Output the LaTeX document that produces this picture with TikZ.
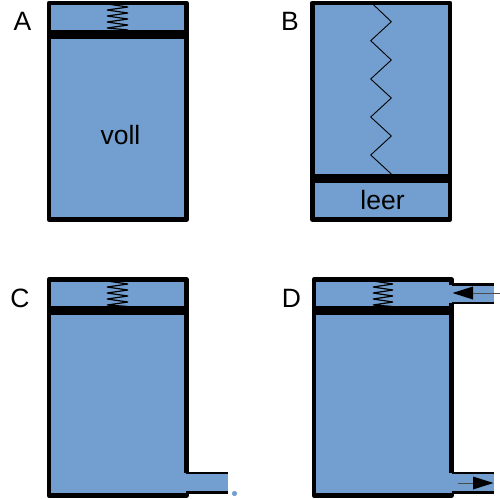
\documentclass[tikz,border=0pt]{standalone}
\usepackage{fontspec}
\setmainfont{Liberation Sans}
\definecolor{fillblue}{RGB}{114,159,207}
\tikzset{
  wall/.style={draw=black,line width=4.4pt,fill=fillblue,line join=round},
  piston/.style={fill=black},
  pipeline/.style={draw=black,line width=2.6pt},
  springline/.style={draw=black,line width=0.9pt,line join=miter},
  smallspring/.style={draw=black,line width=1.2pt,line join=bevel},
  flowline/.style={draw=black!70,line width=0.9pt},
  flowhead/.style={fill=black},
  letter/.style={font=\fontsize{26.5}{30}\selectfont,inner sep=0pt,text=black},
}
\begin{document}
\begin{tikzpicture}[x=1pt,y=-1pt]
\useasboundingbox (0,0) rectangle (500,498);
% A
\draw[wall] (49,3) rectangle (186.5,219.5);
\fill[piston] (47,30) rectangle (188,38.5);
\draw[smallspring] (107,4) -- (128,7) -- (107,10) -- (128,13) -- (107,16) -- (128,19) -- (107,22) -- (128,25) -- (107,28) -- (128,30);
\node[letter] (la) at (22.5,21) {A};
\node[letter] (voll) at (120.5,135) {voll};
% B
\draw[wall] (312.3,3) rectangle (450,219.5);
\fill[piston] (311,174) rectangle (451,182.5);
\draw[springline] (372.7,4) -- (391.3,21.7) -- (370.7,40.7) -- (391.3,60) -- (370.7,79) -- (391.3,98) -- (370.7,117) -- (391.3,136) -- (370.7,155) -- (391.3,174);
\node[letter] (lb) at (290,21) {B};
\node[letter] (leer) at (382.5,200) {leer};
% C
\draw[wall] (49,279.5) rectangle (186.5,495.5);
\fill[piston] (47,306) rectangle (188,314.5);
\draw[smallspring] (107,281) -- (128,284) -- (107,287) -- (128,290) -- (107,293) -- (128,296) -- (107,299) -- (128,302) -- (107,305) -- (128,306.5);
\fill[fillblue] (184,473) rectangle (228,492.5);
\draw[pipeline] (186,473) -- (228,473);
\draw[pipeline] (186,492.5) -- (228,492.5);
\node[letter] (lc) at (20,298) {C};
\fill[fillblue] (234.5,493.5) circle (2.6);
% D
\draw[wall] (314,279.5) rectangle (451.5,495.5);
\fill[piston] (312,306) rectangle (453,314.5);
\draw[smallspring] (373,281) -- (393,284) -- (373,287) -- (393,290) -- (373,293) -- (393,296) -- (373,299) -- (393,302) -- (373,305) -- (393,306.5);
\fill[fillblue] (449,284.5) rectangle (494,303);
\draw[pipeline] (452,284.3) -- (494,284.3);
\draw[pipeline] (452,303) -- (494,303);
\fill[flowhead] (452.5,293) -- (473,286.5) -- (473,299.5) -- cycle;
\draw[flowline] (473,293) -- (500,293);
\fill[fillblue] (449,473) rectangle (494,492.5);
\draw[pipeline] (452,473) -- (494,473);
\draw[pipeline] (452,492.5) -- (494,492.5);
\fill[flowhead] (493.5,483) -- (473,476.5) -- (473,489.5) -- cycle;
\draw[flowline] (458,483) -- (473,483);
\node[letter] (ld) at (291.5,298) {D};
\end{tikzpicture}
\end{document}
